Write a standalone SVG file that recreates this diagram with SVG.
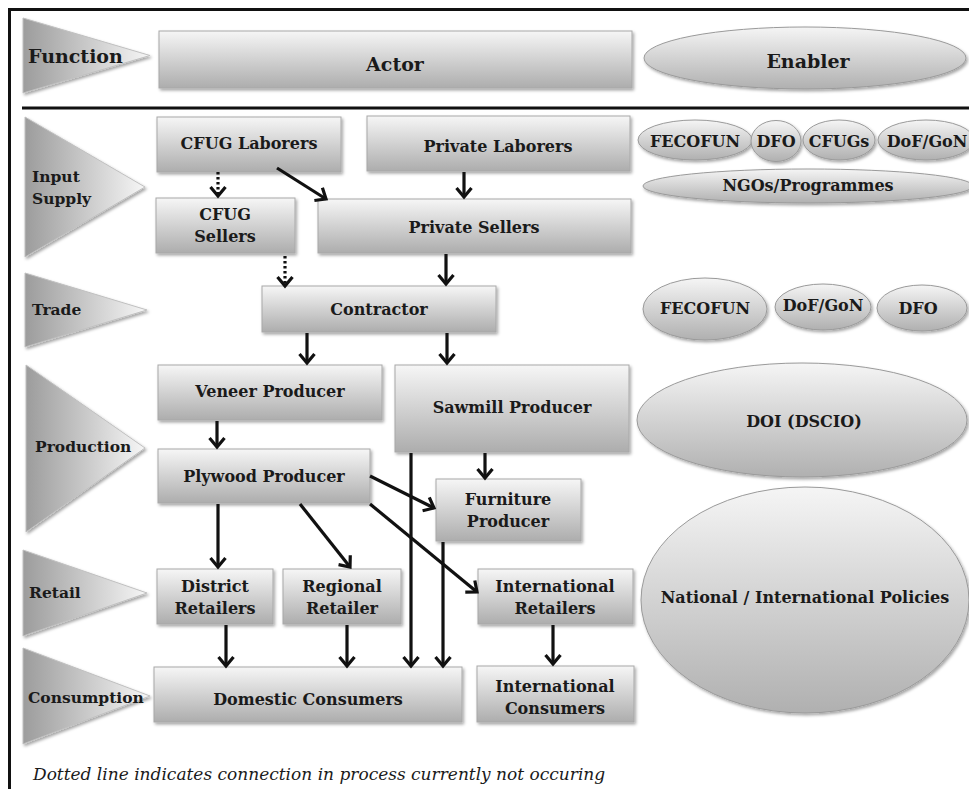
<svg xmlns="http://www.w3.org/2000/svg" width="969" height="789" viewBox="0 0 969 789">
  <style>
    .lbl { font-family: "DejaVu Serif", "Liberation Serif", serif; font-weight: bold; font-size: 16px; fill: #1a1a1a; text-anchor: middle; }
    .hdr { font-size: 19px; }
    .side { text-anchor: start; font-size: 15.5px; }
    .side.hdr { font-size: 19px; }
    .box { fill: url(#boxGrad); stroke: #a8a8a8; stroke-width: 1; filter: url(#shadow); }
    .ell { fill: url(#ellGrad); stroke: #9a9a9a; stroke-width: 1; filter: url(#shadow); }
    .tri { fill: url(#triGrad); stroke: #c0c0c0; stroke-width: 1; filter: url(#shadow); }
    .conn { stroke: #111; stroke-width: 3.2; fill: none; marker-end: url(#arrow); }
    .dot { stroke-dasharray: 2.5 2.5; }
    .note { font-family: "DejaVu Serif", "Liberation Serif", serif; font-style: italic; font-size: 17px; fill: #1a1a1a; }
  </style>
  <defs>
    <linearGradient id="boxGrad" x1="0" y1="0" x2="0" y2="1">
      <stop offset="0" stop-color="#f6f6f6"/>
      <stop offset="1" stop-color="#adadad"/>
    </linearGradient>
    <linearGradient id="ellGrad" x1="0" y1="0" x2="0" y2="1">
      <stop offset="0" stop-color="#f5f5f5"/>
      <stop offset="1" stop-color="#b0b0b0"/>
    </linearGradient>
    <linearGradient id="triGrad" x1="0" y1="0" x2="1" y2="0">
      <stop offset="0" stop-color="#9c9c9c"/>
      <stop offset="1" stop-color="#f6f6f6"/>
    </linearGradient>
    <filter id="shadow" x="-10%" y="-10%" width="125%" height="130%">
      <feDropShadow dx="1.5" dy="2" stdDeviation="1.5" flood-color="#000" flood-opacity="0.35"/>
    </filter>
    <marker id="arrow" viewBox="0 0 18 18" markerWidth="18" markerHeight="18" refX="15" refY="9" orient="auto" markerUnits="userSpaceOnUse">
      <path d="M6,1.5 L15,9 L6,16.5" stroke="#111" stroke-width="3.2" fill="none" stroke-linejoin="miter"/>
    </marker>
  </defs>

  <rect width="969" height="789" fill="#fff"/>
  <!-- frame and header separator -->
  <rect x="9.5" y="9.5" width="980" height="800" fill="none" stroke="#111" stroke-width="3"/>
  <line x1="22" y1="108" x2="969" y2="108" stroke="#111" stroke-width="3.2"/>

  <!-- function column -->
  <g id="function-header"><polygon class="tri" points="23,18 150,55.5 23,93"/><text class="lbl hdr side" x="28" y="63">Function</text></g>
  <g id="function-input"><polygon class="tri" points="25,117 145,187 25,257"/><text class="lbl side" x="32" y="182">Input</text><text class="lbl side" x="32" y="204">Supply</text></g>
  <g id="function-trade"><polygon class="tri" points="25,273 147,310 25,347"/><text class="lbl side" x="32" y="315">Trade</text></g>
  <g id="function-production"><polygon class="tri" points="26,365 145,448 26,532"/><text class="lbl side" x="35" y="452">Production</text></g>
  <g id="function-retail"><polygon class="tri" points="23,550 147,593 23,636"/><text class="lbl side" x="29" y="598">Retail</text></g>
  <g id="function-consumption"><polygon class="tri" points="23,648 150,696 23,744"/><text class="lbl side" x="28" y="703">Consumption</text></g>

  <!-- actors -->
  <g id="actor-header"><rect class="box" x="159" y="31" width="473" height="57"/><text class="lbl hdr" x="395" y="71">Actor</text></g>
  <g id="cfug-laborers"><rect class="box" x="157" y="117" width="184" height="55"/><text class="lbl" x="249" y="149">CFUG Laborers</text></g>
  <g id="private-laborers"><rect class="box" x="367" y="116" width="263" height="55"/><text class="lbl" x="498" y="152">Private Laborers</text></g>
  <g id="cfug-sellers"><rect class="box" x="156" y="198" width="139" height="55"/><text class="lbl" x="225" y="220">CFUG</text><text class="lbl" x="225" y="242">Sellers</text></g>
  <g id="private-sellers"><rect class="box" x="318" y="199" width="313" height="54"/><text class="lbl" x="474" y="233">Private Sellers</text></g>
  <g id="contractor"><rect class="box" x="262" y="286" width="234" height="46"/><text class="lbl" x="379" y="315">Contractor</text></g>
  <g id="veneer-producer"><rect class="box" x="158" y="365" width="224" height="55"/><text class="lbl" x="270" y="397">Veneer Producer</text></g>
  <g id="sawmill-producer"><rect class="box" x="395" y="365" width="234" height="87"/><text class="lbl" x="512" y="413">Sawmill Producer</text></g>
  <g id="plywood-producer"><rect class="box" x="158" y="449" width="212" height="54"/><text class="lbl" x="264" y="482">Plywood Producer</text></g>
  <g id="furniture-producer"><rect class="box" x="436" y="479" width="145" height="62"/><text class="lbl" x="508" y="505">Furniture</text><text class="lbl" x="508" y="527">Producer</text></g>
  <g id="district-retailers"><rect class="box" x="157" y="569" width="116" height="55"/><text class="lbl" x="215" y="592">District</text><text class="lbl" x="215" y="614">Retailers</text></g>
  <g id="regional-retailer"><rect class="box" x="283" y="569" width="118" height="55"/><text class="lbl" x="342" y="592">Regional</text><text class="lbl" x="342" y="614">Retailer</text></g>
  <g id="international-retailers"><rect class="box" x="478" y="569" width="155" height="55"/><text class="lbl" x="555" y="592">International</text><text class="lbl" x="555" y="614">Retailers</text></g>
  <g id="domestic-consumers"><rect class="box" x="154" y="667" width="308" height="55"/><text class="lbl" x="308" y="705">Domestic Consumers</text></g>
  <g id="international-consumers"><rect class="box" x="477" y="666" width="157" height="56"/><text class="lbl" x="555" y="692">International</text><text class="lbl" x="555" y="714">Consumers</text></g>

  <!-- enablers -->
  <g id="enabler-header"><ellipse class="ell" cx="805" cy="58" rx="161" ry="31"/><text class="lbl hdr" x="808" y="68">Enabler</text></g>
  <g id="input-fecofun"><ellipse class="ell" cx="695" cy="140" rx="57" ry="20"/><text class="lbl" x="695" y="147">FECOFUN</text></g>
  <g id="input-dfo"><ellipse class="ell" cx="776" cy="141" rx="25" ry="20.5"/><text class="lbl" x="776" y="147">DFO</text></g>
  <g id="input-cfugs"><ellipse class="ell" cx="839" cy="140" rx="36" ry="20"/><text class="lbl" x="839" y="147">CFUGs</text></g>
  <g id="input-dof-gon"><ellipse class="ell" cx="926" cy="140" rx="48" ry="20"/><text class="lbl" x="927" y="147">DoF/GoN</text></g>
  <g id="input-ngos"><ellipse class="ell" cx="808" cy="186" rx="165" ry="17"/><text class="lbl" x="808" y="191">NGOs/Programmes</text></g>
  <g id="trade-fecofun"><ellipse class="ell" cx="705" cy="309" rx="62" ry="31"/><text class="lbl" x="705" y="314">FECOFUN</text></g>
  <g id="trade-dof-gon"><ellipse class="ell" cx="823" cy="307" rx="48" ry="23"/><text class="lbl" x="823" y="311">DoF/GoN</text></g>
  <g id="trade-dfo"><ellipse class="ell" cx="922" cy="308" rx="45" ry="23"/><text class="lbl" x="918" y="314">DFO</text></g>
  <g id="production-doi"><ellipse class="ell" cx="802" cy="420" rx="165" ry="57"/><text class="lbl" x="804" y="427">DOI (DSCIO)</text></g>
  <g id="policies"><ellipse class="ell" cx="805" cy="600" rx="164" ry="113"/><text class="lbl" x="805" y="603">National / International Policies</text></g>

  <!-- connectors -->
  <g id="connectors">
    <line class="conn dot" x1="218" y1="172" x2="218" y2="196"/>
    <line class="conn dot" x1="285" y1="256" x2="285" y2="286"/>
    <line class="conn" x1="277" y1="168" x2="326" y2="199"/>
    <line class="conn" x1="464" y1="172" x2="464" y2="197"/>
    <line class="conn" x1="446" y1="254" x2="446" y2="284"/>
    <line class="conn" x1="307" y1="333" x2="307" y2="363"/>
    <line class="conn" x1="447" y1="333" x2="447" y2="363"/>
    <line class="conn" x1="217" y1="421" x2="217" y2="447"/>
    <line class="conn" x1="485" y1="453" x2="485" y2="478"/>
    <line class="conn" x1="370" y1="476" x2="434" y2="508"/>
    <line class="conn" x1="411" y1="453" x2="411" y2="666"/>
    <line class="conn" x1="443" y1="542" x2="443" y2="666"/>
    <line class="conn" x1="218" y1="504" x2="218" y2="567"/>
    <line class="conn" x1="300" y1="504" x2="350" y2="567"/>
    <line class="conn" x1="370" y1="504" x2="477" y2="592"/>
    <line class="conn" x1="226" y1="625" x2="226" y2="666"/>
    <line class="conn" x1="347" y1="625" x2="347" y2="666"/>
    <line class="conn" x1="553" y1="625" x2="553" y2="664"/>
  </g>

  <text class="note" x="33" y="780">Dotted line indicates connection in process currently not occuring</text>
</svg>
